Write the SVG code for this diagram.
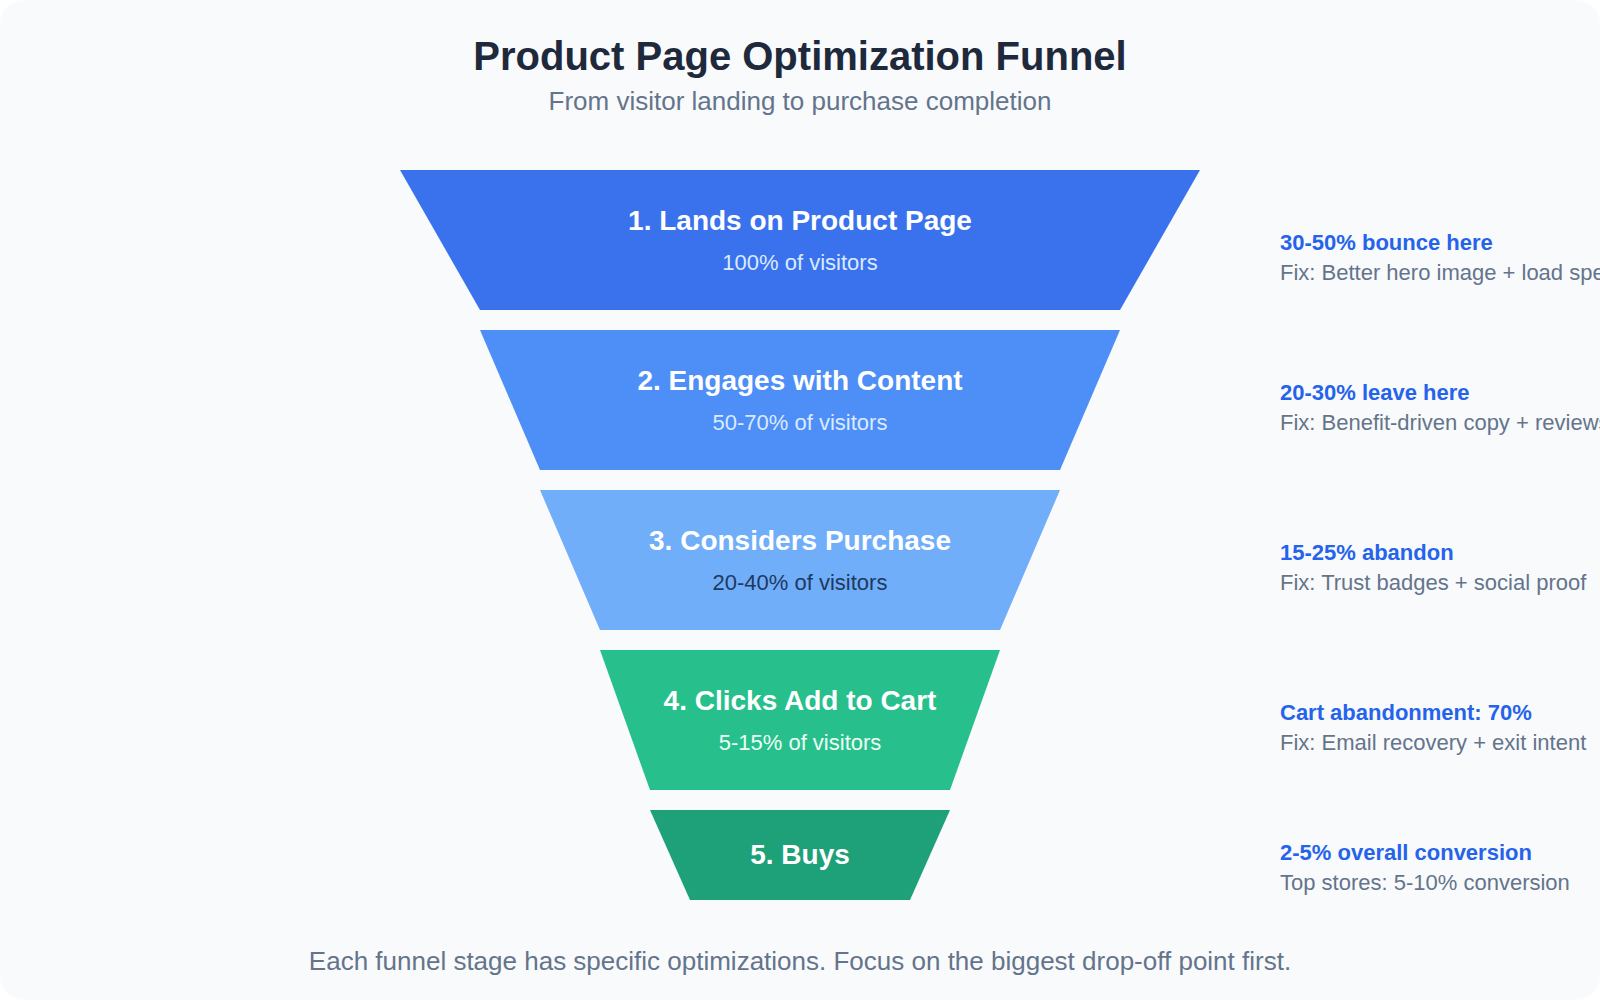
<svg xmlns="http://www.w3.org/2000/svg" width="1600" height="1000" viewBox="0 0 1600 1000">
  <style>
    text { font-family: "Liberation Sans", Arial, Helvetica, sans-serif; }
    .title { font-size: 40px; font-weight: 700; fill: #1e293b; text-anchor: middle; }
    .subtitle { font-size: 26px; fill: #64748b; text-anchor: middle; }
    .stage { opacity: 0.9; }
    .st { font-size: 28px; font-weight: 700; fill: #ffffff; text-anchor: middle; }
    .ss { font-size: 22px; text-anchor: middle; }
    .ah { font-size: 22px; font-weight: 700; fill: #2563eb; }
    .af { font-size: 22px; fill: #64748b; }
    .foot { font-size: 26px; fill: #64748b; text-anchor: middle; }
  </style>
  <rect x="0" y="0" width="1600" height="1000" fill="#ffffff"/>
  <rect x="0" y="0" width="1600" height="1000" rx="24" ry="24" fill="#f8fafc"/>

  <text class="title" x="800" y="70">Product Page Optimization Funnel</text>
  <text class="subtitle" x="800" y="110">From visitor landing to purchase completion</text>

  <g id="stage1">
    <polygon class="stage" points="400,170 1200,170 1120,310 480,310" fill="#2563eb"/>
    <text class="st" x="800" y="230">1. Lands on Product Page</text>
    <text class="ss" x="800" y="270" fill="#dbeafe">100% of visitors</text>
  </g>
  <g id="stage2">
    <polygon class="stage" points="480,330 1120,330 1060,470 540,470" fill="#3b82f6"/>
    <text class="st" x="800" y="390">2. Engages with Content</text>
    <text class="ss" x="800" y="430" fill="#dbeafe">50-70% of visitors</text>
  </g>
  <g id="stage3">
    <polygon class="stage" points="540,490 1060,490 1000,630 600,630" fill="#60a5fa"/>
    <text class="st" x="800" y="550">3. Considers Purchase</text>
    <text class="ss" x="800" y="590" fill="#1e3a5f">20-40% of visitors</text>
  </g>
  <g id="stage4">
    <polygon class="stage" points="600,650 1000,650 950,790 650,790" fill="#10b981"/>
    <text class="st" x="800" y="710">4. Clicks Add to Cart</text>
    <text class="ss" x="800" y="750" fill="#ecfdf5">5-15% of visitors</text>
  </g>
  <g id="stage5">
    <polygon class="stage" points="650,810 950,810 910,900 690,900" fill="#059669"/>
    <text class="st" x="800" y="864">5. Buys</text>
  </g>

  <g id="annotations">
    <g id="note1">
      <text class="ah" x="1280" y="250">30-50% bounce here</text>
      <text class="af" x="1280" y="280">Fix: Better hero image + load speed</text>
    </g>
    <g id="note2">
      <text class="ah" x="1280" y="400">20-30% leave here</text>
      <text class="af" x="1280" y="430">Fix: Benefit-driven copy + reviews</text>
    </g>
    <g id="note3">
      <text class="ah" x="1280" y="560">15-25% abandon</text>
      <text class="af" x="1280" y="590">Fix: Trust badges + social proof</text>
    </g>
    <g id="note4">
      <text class="ah" x="1280" y="720">Cart abandonment: 70%</text>
      <text class="af" x="1280" y="750">Fix: Email recovery + exit intent</text>
    </g>
    <g id="note5">
      <text class="ah" x="1280" y="860">2-5% overall conversion</text>
      <text class="af" x="1280" y="890">Top stores: 5-10% conversion</text>
    </g>
  </g>

  <g id="connectors"></g>

  <text class="foot" x="800" y="970">Each funnel stage has specific optimizations. Focus on the biggest drop-off point first.</text>
</svg>
